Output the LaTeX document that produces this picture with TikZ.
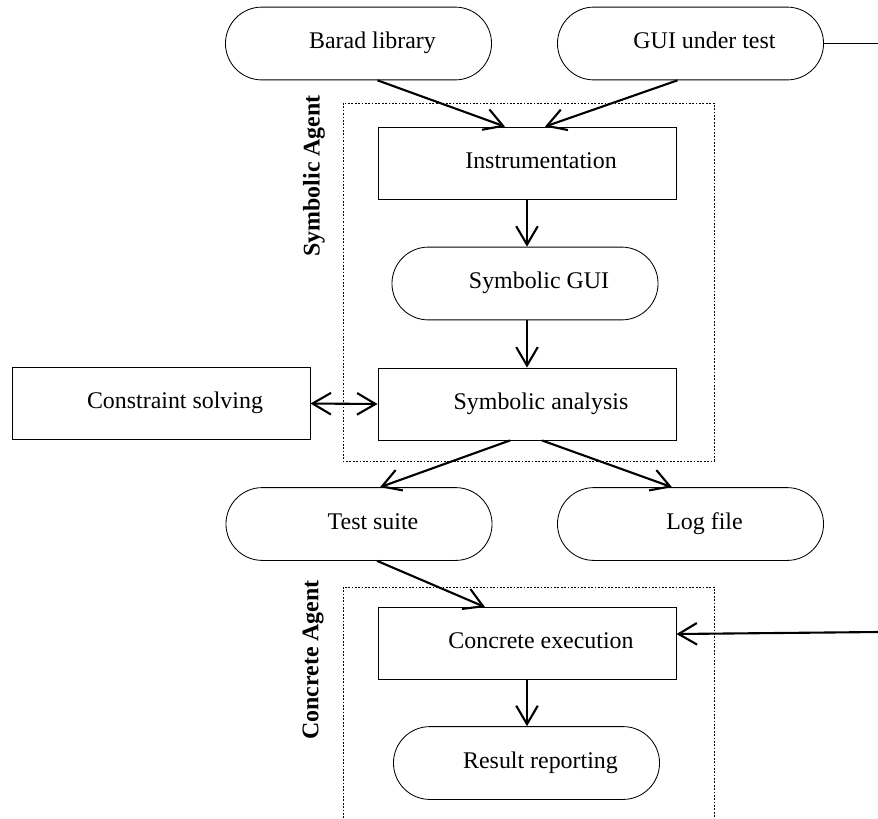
\documentclass[tikz,border=0pt]{standalone}
\usepackage{fontspec}
\setmainfont{Liberation Serif}
\usetikzlibrary{arrows.meta,calc,shapes.misc}

\begin{document}
\begin{tikzpicture}[
  x=0.025cm, y=-0.025cm,
  font=\fontsize{17}{20}\selectfont,
  stage/.style={draw,line width=0.6pt,minimum width=7.45cm,minimum height=1.8cm,inner sep=0pt,
                text height=0.8em,text depth=0.06em,
                execute at begin node={\hspace*{7mm}}},
  pill/.style={stage,rounded rectangle,minimum width=6.65cm,minimum height=1.82cm},
  agent/.style={rotate=90,font=\fontsize{17}{20}\selectfont\bfseries},
  region/.style={line width=0.5pt,dash pattern=on 1.2pt off 1.2pt},
  flow/.style={line width=1.5pt},
  >={Straight Barb[length=4.6mm,width=5.4mm]}
]
\useasboundingbox (0,0) rectangle (878,818);

% agent regions
\draw[region] (343,103) rectangle (714,461);
\draw[region] (343,818) |- (714,587) -- (714,818);
\node[agent] (symlabel) at (314,176) {Symbolic Agent};
\node[agent] (conclabel) at (313,660) {Concrete Agent};

\node[pill] (barad) at (358.5,43.5) {Barad library};
\node[pill] (gui) at (690.5,43.5) {GUI under test};
\node[stage] (instr) at (527,163) {Instrumentation};
\node[pill] (symgui) at (525,283.5) {Symbolic GUI};
\node[stage] (symana) at (527,404) {Symbolic analysis};
\node[stage] (solver) at (161,403.5) {Constraint solving};
\node[pill] (tests) at (359,524) {Test suite};
\node[pill] (logfile) at (690.5,524) {Log file};
\node[stage] (concrete) at (527,643.5) {Concrete execution};
\node[pill] (report) at (526.5,763) {Result reporting};
\coordinate (guiout) at (878,43.5);
\coordinate (feed) at (878,632);

\draw[flow,->] ($(barad.south)+(19,0)$) -- ($(instr.north)+(-22,0)$);
\draw[flow,->] ($(gui.south)+(-13,0)$) -- ($(instr.north)+(18,0)$);
\draw[flow,->] (instr.south) -- (instr.south |- symgui.north);
\draw[flow,->] (symgui.south -| symana.north) -- (symana.north);
\draw[flow,<->] (solver.east) -- (symana.west);
\draw[flow,->] ($(symana.south)+(-17,0)$) -- ($(tests.north)+(21,0)$);
\draw[flow,->] ($(symana.south)+(15,0)$) -- ($(logfile.north)+(-18.5,0)$);
\draw[flow,->] ($(tests.south)+(18,0)$) -- ($(concrete.north)+(-42,0)$);
\draw[line width=0.6pt] (gui.east) -- (guiout);
\draw[flow,->] (feed) -- ($(concrete.east)+(0,-9.5)$);
\draw[flow,->] (concrete.south) -- (concrete.south |- report.north);
\end{tikzpicture}
\end{document}
